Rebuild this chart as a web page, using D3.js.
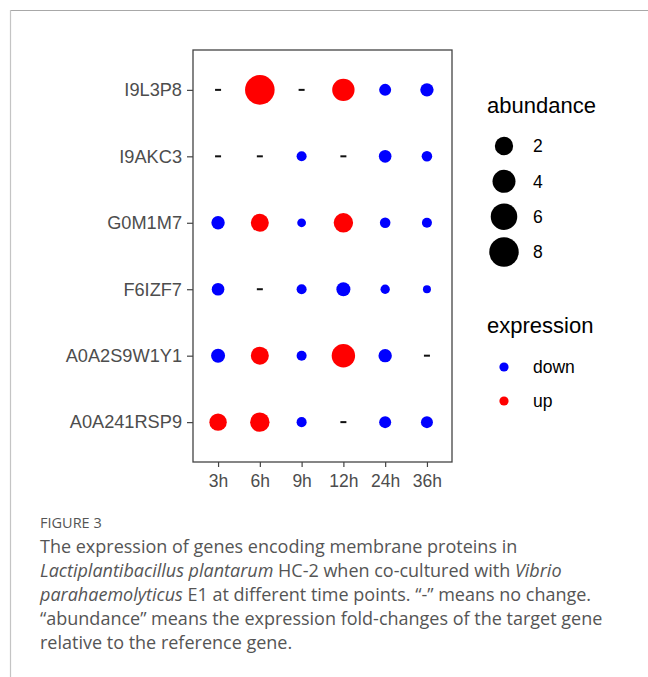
<!DOCTYPE html>
<html>
<head>
<meta charset="utf-8">
<script src="https://cdn.jsdelivr.net/npm/d3@7"></script>
<style>
  html, body { margin: 0; padding: 0; background: #fff; }
  svg { display: block; }
</style>
</head>
<body>
<svg id="fig" width="648" height="677"></svg>
<script>
// Proteins (top to bottom) and sampling time points
const proteins = ["I9L3P8", "I9AKC3", "G0M1M7", "F6IZF7", "A0A2S9W1Y1", "A0A241RSP9"];
const timePoints = ["3h", "6h", "9h", "12h", "24h", "36h"];

// Fold-change ("abundance") per protein and time point; null = no change
const abundance = [
  [null, 8.1,  null, 3.7,  0.47, 0.69],
  [null, null, 0.27, null, 0.56, 0.31],
  [0.69, 1.89, 0.21, 2.4,  0.31, 0.27],
  [0.56, null, 0.27, 0.81, 0.23, 0.2 ],
  [0.81, 1.89, 0.27, 4.22, 0.69, null],
  [1.7,  2.4,  0.27, null, 0.47, 0.47]
];

// Regulation direction per protein and time point; null = no change
const expression = [
  [null,   "up",   null,   "up",   "down", "down"],
  [null,   null,   "down", null,   "down", "down"],
  ["down", "up",   "down", "up",   "down", "down"],
  ["down", null,   "down", "down", "down", "down"],
  ["down", "up",   "down", "up",   "down", null  ],
  ["up",   "up",   "down", null,   "down", "down"]
];

// Legend entries
const sizeBreaks = [2, 4, 6, 8];
const expressionLevels = ["down", "up"];
const expressionColors = ["#0000ff", "#ff0000"];

// Caption text
const figureLabel = "FIGURE 3";
const captionLines = [
  [{t: "The expression of genes encoding membrane proteins in"}],
  [{t: "Lactiplantibacillus plantarum", i: true}, {t: " HC-2 when co-cultured with "}, {t: "Vibrio", i: true}],
  [{t: "parahaemolyticus", i: true}, {t: " E1 at different time points. \u201c-\u201d means no change."}],
  [{t: "\u201cabundance\u201d means the expression fold-changes of the target gene"}],
  [{t: "relative to the reference gene."}]
];

// ---- layout ----
const svg = d3.select("#fig");
const panel = {left: 193, right: 452, top: 50, bottom: 462};
const axisFont = "'Liberation Sans', Arial, sans-serif";
const axisTextColor = "#4d4d4d";

// outer figure frame
svg.append("line").attr("x1", 10).attr("x2", 648).attr("y1", 10.5).attr("y2", 10.5)
  .attr("stroke", "#a8a8a8").attr("stroke-width", 1.2);
svg.append("line").attr("x1", 10.5).attr("x2", 10.5).attr("y1", 10).attr("y2", 677)
  .attr("stroke", "#c4c4c4").attr("stroke-width", 1.2);

// scales
const x = d3.scalePoint().domain(timePoints).range([panel.left, panel.right]).padding(0.6);
const y = d3.scalePoint().domain(proteins).range([panel.top, panel.bottom]).padding(0.6);
const color = d3.scaleOrdinal().domain(expressionLevels).range(expressionColors);

const cells = [];
proteins.forEach((p, i) => timePoints.forEach((t, j) => {
  cells.push({protein: p, time: t, value: abundance[i][j], dir: expression[i][j]});
}));
const present = cells.filter(d => d.value != null);
// area-proportional sizing between the smallest and largest fold-change
const norm = d3.scaleLinear().domain(d3.extent(present, d => d.value)).range([0, 1]);
const rad = d3.scaleSqrt().domain([0, 1]).range([4, 14.8]);
const r = v => rad(norm(v));

// panel background
svg.append("rect")
  .attr("x", panel.left).attr("y", panel.top)
  .attr("width", panel.right - panel.left).attr("height", panel.bottom - panel.top)
  .attr("fill", "#fff");

// points
svg.append("g").selectAll("circle").data(present).join("circle")
  .attr("cx", d => x(d.time)).attr("cy", d => y(d.protein))
  .attr("r", d => r(d.value))
  .attr("fill", d => color(d.dir));

// "no change" markers
svg.append("g").selectAll("rect").data(cells.filter(d => d.value == null)).join("rect")
  .attr("x", d => x(d.time) - 3).attr("y", d => y(d.protein) - 1)
  .attr("width", 6).attr("height", 2)
  .attr("fill", "#111");

// panel border
svg.append("rect")
  .attr("x", panel.left).attr("y", panel.top)
  .attr("width", panel.right - panel.left).attr("height", panel.bottom - panel.top)
  .attr("fill", "none").attr("stroke", "#444").attr("stroke-width", 1.3);

// axes
const yAxis = svg.append("g").attr("transform", `translate(${panel.left},0)`)
  .call(d3.axisLeft(y).tickSize(6).tickPadding(5));
const xAxis = svg.append("g").attr("transform", `translate(0,${panel.bottom})`)
  .call(d3.axisBottom(x).tickSize(5).tickPadding(8));
[yAxis, xAxis].forEach(g => {
  g.select(".domain").remove();
  g.selectAll(".tick line").attr("stroke", "#444").attr("stroke-width", 1.2);
  g.selectAll(".tick text").attr("fill", axisTextColor).style("font-family", axisFont);
});
yAxis.selectAll(".tick text").style("font-size", "18.2px");
xAxis.selectAll(".tick text").style("font-size", "17.5px");

// size legend
const legX = 487;
svg.append("text").attr("x", legX).attr("y", 113).text("abundance")
  .style("font-family", axisFont).style("font-size", "22px").attr("fill", "#000");
const sizeKey = d3.scalePoint().domain(sizeBreaks).range([146, 252]);
const sg = svg.append("g").selectAll("g").data(sizeBreaks).join("g")
  .attr("transform", d => `translate(0,${sizeKey(d)})`);
sg.append("circle").attr("cx", 504).attr("r", d => r(d)).attr("fill", "#000");
sg.append("text").attr("x", 533).attr("dy", "0.36em").text(d => d)
  .style("font-family", axisFont).style("font-size", "17.5px").attr("fill", "#000");

// colour legend
svg.append("text").attr("x", legX).attr("y", 333).text("expression")
  .style("font-family", axisFont).style("font-size", "22px").attr("fill", "#000");
const colKey = d3.scalePoint().domain(expressionLevels).range([367, 401]);
const cg = svg.append("g").selectAll("g").data(expressionLevels).join("g")
  .attr("transform", d => `translate(0,${colKey(d)})`);
cg.append("circle").attr("cx", 504).attr("r", 4.6).attr("fill", d => color(d));
cg.append("text").attr("x", 533).attr("dy", "0.36em").text(d => d)
  .style("font-family", axisFont).style("font-size", "17.5px").attr("fill", "#000");

// caption
const capFont = "'Open Sans', 'Noto Sans', sans-serif";
svg.append("text").attr("x", 40).attr("y", 528).text(figureLabel)
  .style("font-family", capFont).style("font-size", "14.5px").attr("fill", "#555");
const cap = svg.append("g");
captionLines.forEach((segs, k) => {
  const t = cap.append("text").attr("x", 40).attr("y", 553 + k * 24)
    .style("font-family", capFont).style("font-size", "18px").attr("fill", "#555");
  segs.forEach(s => t.append("tspan").text(s.t).style("font-style", s.i ? "italic" : "normal"));
});
</script>
</body>
</html>
